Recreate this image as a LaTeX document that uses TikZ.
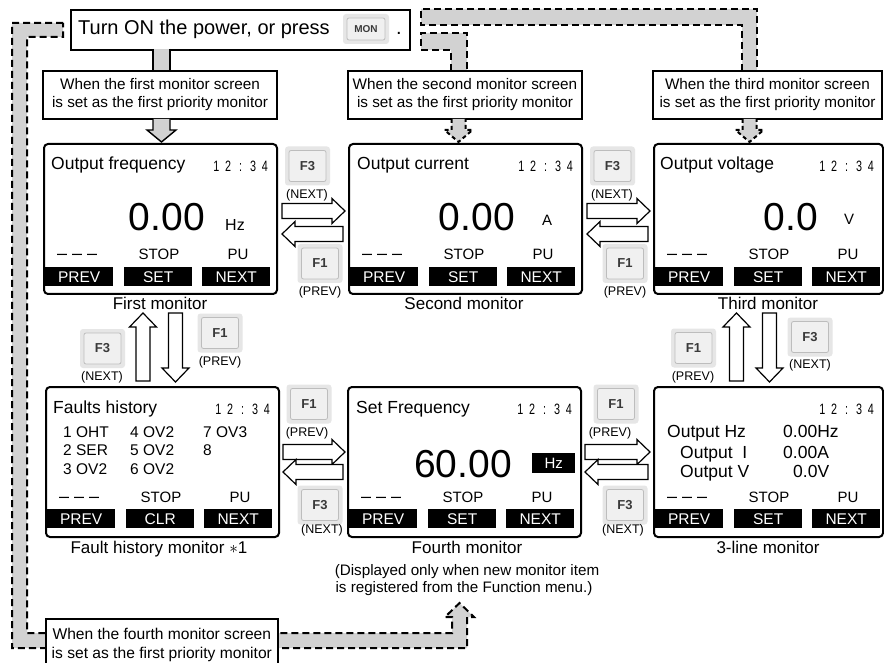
\documentclass[tikz,border=0pt]{standalone}
\usepackage{fontspec}
\setmainfont{Liberation Sans}
\usetikzlibrary{calc}
\definecolor{band}{HTML}{D2D2D2}
\definecolor{btnout}{HTML}{E6E6E6}
\definecolor{btnin}{HTML}{F0F0F0}
\definecolor{btnline}{HTML}{BDBDBD}
\definecolor{btntext}{HTML}{3A3A3A}
\newcommand\fs[1]{\fontsize{#1}{#1}\selectfont}
\newcommand\clk{\scalebox{0.72}[1]{1\hspace{8pt}2\hspace{11pt}:\hspace{11pt}3\hspace{8pt}4}}
\newcommand\rarr[3]{\draw[oarr] (#1,#3-7.5) -- (#2-13,#3-7.5) -- (#2-13,#3-12.5) -- (#2,#3) -- (#2-13,#3+12.5) -- (#2-13,#3+7.5) -- (#1,#3+7.5) -- cycle;}
\newcommand\larr[3]{\draw[oarr] (#2,#3-7.5) -- (#1+13,#3-7.5) -- (#1+13,#3-12.5) -- (#1,#3) -- (#1+13,#3+12.5) -- (#1+13,#3+7.5) -- (#2,#3+7.5) -- cycle;}
\newcommand\uarr[3]{\draw[oarr] (#1-7,#3) -- (#1-7,#2+14) -- (#1-13.5,#2+14) -- (#1,#2) -- (#1+13.5,#2+14) -- (#1+7,#2+14) -- (#1+7,#3) -- cycle;}
\newcommand\darr[3]{\draw[oarr] (#1-7,#2) -- (#1-7,#3-14) -- (#1-13.5,#3-14) -- (#1,#3) -- (#1+13.5,#3-14) -- (#1+7,#3-14) -- (#1+7,#2) -- cycle;}
\newcommand\scrbase[6]{%
 \node[txt, anchor=base east, font=\fs{15}] (#1clk) at (#4-8,#3+29) {\clk};
 \node[txt, anchor=base west, font=\fs{18}] (#1dsh) at (#2+14,#3+#6) {– – –};
 \node[txt, anchor=base, font=\fs{15}] (#1stp) at (#2+116,#3+#6) {STOP};
 \node[txt, anchor=base, font=\fs{15}] (#1pu) at (#2+195,#3+#6) {PU};
 \node[bar] (#1b1) at (#2+2,#3+124) {PREV};
 \node[bar] (#1b2) at (#2+81,#3+124) {#5};
 \node[bar] (#1b3) at (#2+159,#3+124) {NEXT};
}
\begin{document}
\begin{tikzpicture}[x=1pt,y=-1pt,
  txt/.style={inner sep=0pt},
  scr/.style={draw, line width=2pt, rounded corners=4pt, fill=white, anchor=north west, inner sep=0pt, minimum height=150pt},
  bar/.style={fill=black, text=white, font=\fs{15.5}, inner sep=0pt, minimum height=19pt, minimum width=68pt, anchor=north west},
  prio/.style={draw, line width=1.6pt, fill=white, align=center, font=\fontsize{15.3}{18}\selectfont, inner sep=0pt, minimum height=48pt},
  dband/.style={dash pattern=on 7pt off 4pt, line width=2pt},
  oarr/.style={draw, line width=1.2pt, fill=white},
  btn/.style={fill=btnout, rounded corners=3pt, minimum width=45pt, minimum height=39pt, inner sep=0pt,
     font=\fs{13}\bfseries, text=btntext,
     path picture={\draw[btnline, fill=btnin, rounded corners=2pt, line width=0.8pt]
       ([shift={(4pt,-4pt)}]path picture bounding box.north west) rectangle
       ([shift={(-4pt,4pt)}]path picture bounding box.south east);}},
  lbl/.style={txt, font=\fs{12.5}},
  capt/.style={txt, anchor=base, font=\fs{17}}
]
\useasboundingbox (0,0) rectangle (884,663);
\fill[white] (0,0) rectangle (884,663);

% ---------- dashed bands ----------
\fill[band] (421,9) -- (757,9) -- (757,71) -- (742,71) -- (742,25) -- (421,25) -- cycle;
\draw[dband] (742,71) -- (742,25) -- (421,25) -- (421,9) -- (757,9) -- (757,71);
\fill[band] (421,33) -- (467,33) -- (467,71) -- (451,71) -- (451,50) -- (421,50) -- cycle;
\draw[dband] (451,71) -- (451,50) -- (421,50) -- (421,33) -- (467,33) -- (467,71);
\fill[band] (63,23) -- (12,23) -- (12,648) -- (467,648) -- (467,617) -- (474,617) -- (459.5,603) -- (445,617) -- (452,617) -- (452,633) -- (27,633) -- (27,37) -- (63,37) -- cycle;
\draw[dband] (63,23) -- (12,23) -- (12,648) -- (467,648) -- (467,617) -- (474,617) -- (459.5,603) -- (445,617) -- (452,617) -- (452,633) -- (27,633) -- (27,37) -- (63,37) -- cycle;

% ---------- top box ----------
\node[draw, line width=1.8pt, minimum width=339pt, minimum height=40pt, anchor=north west, inner sep=0pt] (top) at (70,9) {};
\node[txt, anchor=base west, font=\fs{20}] (toptxt) at (78,35) {Turn ON the power, or press};
\node[btn, minimum width=46pt, minimum height=30pt, font=\fs{10}\bfseries] (mon) at (366,29) {MON};
\node[txt, anchor=base west, font=\fs{20}] (dot) at (396,35) {.};

% connector top -> prio1
\fill[band] (153,49) rectangle (170,71);
\draw[line width=1.4pt] (153,49) -- (153,71) (170,49) -- (170,71);

% ---------- priority boxes ----------
\node[prio, minimum width=234pt] (p1) at (160,95) {When the first monitor screen\\is set as the first priority monitor};
\node[prio, minimum width=234pt] (p2) at (465,95) {When the second monitor screen\\is set as the first priority monitor};
\node[prio, minimum width=229pt] (p3) at (767.5,95) {When the third monitor screen\\is set as the first priority monitor};
\node[prio, minimum width=232pt, minimum height=52pt, anchor=north west, font=\fontsize{15.6}{19}\selectfont] (p4) at (45,618) {When the fourth monitor screen\\is set as the first priority monitor};

% arrows prio -> screen
\fill[band] (153,119) -- (153,130) -- (147,130) -- (161.5,142) -- (176,130) -- (170,130) -- (170,119) -- cycle;
\draw[line width=1.4pt] (153,119) -- (153,130) -- (147,130) -- (161.5,142) -- (176,130) -- (170,130) -- (170,119);
\fill[band] (451.5,119) -- (451.5,130) -- (444.5,130) -- (458.5,142) -- (472.5,130) -- (465.5,130) -- (465.5,119) -- cycle;
\draw[dband, dash pattern=on 4pt off 3pt] (451.5,119) -- (451.5,130) -- (444.5,130) -- (458.5,142) -- (472.5,130) -- (465.5,130) -- (465.5,119);
\fill[band] (742.5,119) -- (742.5,130) -- (735.5,130) -- (749.5,142) -- (763.5,130) -- (756.5,130) -- (756.5,119) -- cycle;
\draw[dband, dash pattern=on 4pt off 3pt] (742.5,119) -- (742.5,130) -- (735.5,130) -- (749.5,142) -- (763.5,130) -- (756.5,130) -- (756.5,119);

% ---------- screens ----------
\node[scr, minimum width=233pt] (s1) at (43,143) {};
\node[scr, minimum width=233pt] (s2) at (348,143) {};
\node[scr, minimum width=229pt] (s3) at (653,143) {};
\node[scr, minimum width=233pt] (s4) at (45,386) {};
\node[scr, minimum width=233pt] (s5) at (347,386) {};
\node[scr, minimum width=229pt] (s6) at (653,386) {};

% screen 1
\node[txt, anchor=base west, font=\fs{17.5}] (s1t) at (51,170) {Output frequency};
\node[txt, anchor=base east, font=\fs{39}] (s1v) at (205,231) {0.00};
\node[txt, anchor=base west, font=\fs{16}] (s1u) at (225,231) {Hz};
\scrbase{s1}{43}{143}{276}{SET}{117}
% screen 2
\node[txt, anchor=base west, font=\fs{17.5}] (s2t) at (357,170) {Output current};
\node[txt, anchor=base east, font=\fs{39}] (s2v) at (515,231) {0.00};
\node[txt, anchor=base west, font=\fs{15}] (s2u) at (542,226) {A};
\scrbase{s2}{348}{143}{581}{SET}{117}
% screen 3
\node[txt, anchor=base west, font=\fs{17.5}] (s3t) at (660,170) {Output voltage};
\node[txt, anchor=base east, font=\fs{39}] (s3v) at (818,231) {0.0};
\node[txt, anchor=base west, font=\fs{15}] (s3u) at (844,225) {V};
\scrbase{s3}{653}{143}{882}{SET}{117}
% screen 4: faults history
\node[txt, anchor=base west, font=\fs{17.5}] (s4t) at (53,413) {Faults history};
\node[txt, anchor=base west, font=\fs{15.5}] (f1) at (63,437) {1 OHT};
\node[txt, anchor=base west, font=\fs{15.5}] (f2) at (63,455) {2 SER};
\node[txt, anchor=base west, font=\fs{15.5}] (f3) at (63,474) {3 OV2};
\node[txt, anchor=base west, font=\fs{15.5}] (f4) at (130,437) {4 OV2};
\node[txt, anchor=base west, font=\fs{15.5}] (f5) at (130,455) {5 OV2};
\node[txt, anchor=base west, font=\fs{15.5}] (f6) at (130,474) {6 OV2};
\node[txt, anchor=base west, font=\fs{15.5}] (f7) at (203,437) {7 OV3};
\node[txt, anchor=base west, font=\fs{15.5}] (f8) at (203,455) {8};
\scrbase{s4}{45}{385}{278}{CLR}{117}
% screen 5: set frequency
\node[txt, anchor=base west, font=\fs{17.5}] (s5t) at (356,413) {Set Frequency};
\node[txt, anchor=base east, font=\fs{39}] (s5v) at (512,477) {60.00};
\node[fill=black, text=white, font=\fs{15}, minimum width=43pt, minimum height=20pt, inner sep=0pt, anchor=north west] (s5u) at (532,453) {Hz};
\scrbase{s5}{347}{385}{580}{SET}{117}
% screen 6: 3-line
\node[txt, anchor=base west, font=\fs{17.5}] (l1) at (667,437) {Output Hz};
\node[txt, anchor=base west, font=\fs{17.5}] (l2) at (680,458) {Output\ \ I};
\node[txt, anchor=base west, font=\fs{17.5}] (l3) at (680,477) {Output V};
\node[txt, anchor=base west, font=\fs{17.5}] (v1) at (783,437) {0.00Hz};
\node[txt, anchor=base west, font=\fs{17.5}] (v2) at (783,458) {0.00A};
\node[txt, anchor=base west, font=\fs{17.5}] (v3) at (793,477) {0.0V};
\scrbase{s6}{653}{385}{882}{SET}{117}

% captions
\node[capt] (c1) at (160,309) {First monitor};
\node[capt] (c2) at (464,309) {Second monitor};
\node[capt] (c3) at (768,309) {Third monitor};
\node[capt] (c4) at (159,553) {Fault history monitor $\ast$1};
\node[capt] (c5) at (467,553) {Fourth monitor};
\node[txt, anchor=base, font=\fs{15.2}] (c5a) at (467,575) {(Displayed only when new monitor item};
\node[txt, anchor=base, font=\fs{15.2}] (c5b) at (464,592) {is registered from the Function menu.)};
\node[capt] (c6) at (768,553) {3-line monitor};

% ---------- open arrows ----------
\rarr{282}{345}{211}
\larr{282}{343}{234}
\rarr{587}{650}{211}
\larr{587}{648}{234}
\rarr{283}{345}{452}
\larr{283}{343}{472}
\rarr{585}{650}{452}
\larr{585}{648}{472}
\uarr{143}{313}{381}
\darr{175.5}{313}{382}
\uarr{736.5}{313}{381}
\darr{769.5}{313}{382}

% ---------- buttons ----------
\node[btn] (k1) at (307.5,166) {F3};
\node[lbl] (k1l) at (307,195) {(NEXT)};
\node[btn] (k2) at (320,263.5) {F1};
\node[lbl] (k2l) at (320,292) {(PREV)};
\node[btn] (k3) at (612.5,166) {F3};
\node[lbl] (k3l) at (612,195) {(NEXT)};
\node[btn] (k4) at (625,263.5) {F1};
\node[lbl] (k4l) at (625,292) {(PREV)};
\node[btn] (k5) at (102.5,348.5) {F3};
\node[lbl] (k5l) at (102,377) {(NEXT)};
\node[btn] (k6) at (220,333) {F1};
\node[lbl] (k6l) at (220,362) {(PREV)};
\node[btn] (k7) at (693.5,348) {F1};
\node[lbl] (k7l) at (693,377) {(PREV)};
\node[btn] (k8) at (810,337) {F3};
\node[lbl] (k8l) at (810,365) {(NEXT)};
\node[btn] (k9) at (309,404) {F1};
\node[lbl] (k9l) at (307,433) {(PREV)};
\node[btn] (k10) at (320,505) {F3};
\node[lbl] (k10l) at (322,530) {(NEXT)};
\node[btn] (k11) at (616,404) {F1};
\node[lbl] (k11l) at (610,433) {(PREV)};
\node[btn] (k12) at (625,505) {F3};
\node[lbl] (k12l) at (623,530) {(NEXT)};
\end{tikzpicture}
\end{document}
